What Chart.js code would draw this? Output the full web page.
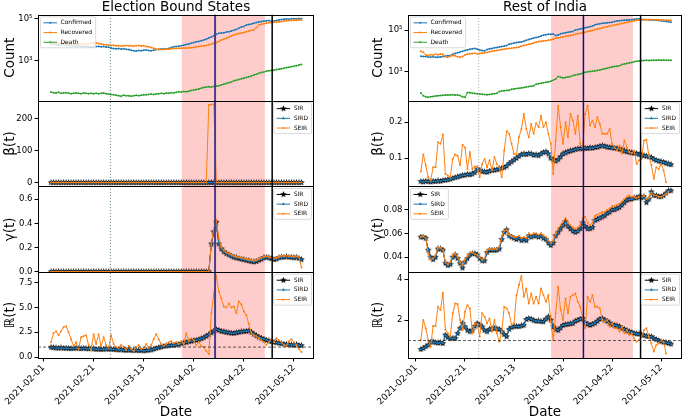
<!DOCTYPE html>
<html>
<head>
<meta charset="utf-8">
<script src="https://cdn.jsdelivr.net/npm/chart.js@4.4.1/dist/chart.umd.min.js"></script>
<style>
  html, body { margin: 0; padding: 0; background: #fff; }
  #wrap { position: relative; width: 685px; height: 417px; }
  .col { position: absolute; top: 0; height: 417px; }
</style>
</head>
<body>
<div id="wrap">
  <div class="col" style="left:0;width:342px"><canvas id="left"></canvas></div>
  <div class="col" style="left:342px;width:343px"><canvas id="right"></canvas></div>
</div>
<script>
// x values are days after 2021-02-01
const dateTicks = [0, 20, 40, 60, 80, 100];
const dateLabels = ["2021-02-01", "2021-02-21", "2021-03-13", "2021-04-02", "2021-04-22", "2021-05-12"];

// ---- Election Bound States (first point = day 3) ----
const firstDayL = 3;
const confirmedL = [5900, 6100, 5700, 5500, 5600, 5800, 5300, 5200, 5400, 5100,
  4900, 5000, 4700, 4600, 4800, 4500, 4400, 4700, 4600, 4700,
  4500, 4600, 4400, 4300, 3900, 3700, 3600, 3700, 3500, 3600,
  3400, 3300, 3100, 2900, 2800, 3000, 2900, 3100, 3200, 3000,
  2900, 3100, 3300, 3400, 3500, 3600, 3500, 3700, 4200, 4500,
  4600, 4800, 5100, 5400, 5800, 6100, 6600, 7200, 7800, 8200,
  8900, 9600, 10500, 12000, 13500, 15500, 18000, 20000, 20500, 21500,
  23000, 24000, 26000, 28500, 31000, 35000, 40000, 43000, 50000, 53000,
  56000, 61000, 66000, 70000, 74000, 78000, 80000, 82000, 76000, 77000,
  84000, 88000, 92000, 95000, 98000, 96000, 100000, 102000, 99000, 103000,
  100000];
const recoveredL = [6500, 6800, 7000, 6600, 6900, 6400, 6700, 6300, 6500, 6200,
  6100, 6300, 6000, 5900, 6200, 6400, 6600, 6800, 6900, 6500,
  6200, 5800, 5700, 5500, 5200, 5300, 5000, 5100, 4900, 5000,
  5200, 5100, 5000, 4800, 5100, 5200, 4900, 5000, 4700, 4500,
  4200, 3800, 3400, 3300, 3300, 3400, 3500, 3400, 3600, 3700,
  3700, 3800, 3800, 3900, 3900, 4000, 4100, 4200, 4500, 4600,
  4800, 5000, 5200, 5600, 6000, 6700, 7200, 8000, 9500, 10500,
  11500, 13000, 15000, 17000, 18000, 19500, 21000, 22000, 24000, 26000,
  28000, 30000, 38000, 50000, 55000, 58000, 62000, 64000, 66000, 68000,
  70000, 72000, 74000, 78000, 80000, 82000, 84000, 85000, 86000, 87000,
  88000];
const deathL = [30, 28, 27, 29, 26, 27, 28, 27, 25, 26,
  27, 26, 25, 27, 26, 25, 26, 25, 26, 25,
  26, 27, 25, 24, 23, 22, 21, 20, 19, 21,
  20, 20, 19, 20, 21, 20, 21, 22, 22, 23,
  24, 23, 24, 25, 26, 25, 27, 26, 28, 27,
  29, 31, 30, 32, 31, 33, 36, 38, 40, 42,
  46, 50, 52, 54, 52, 56, 58, 60, 66, 72,
  78, 85, 92, 105, 112, 120, 130, 140, 152, 165,
  180, 200, 215, 240, 260, 280, 300, 320, 330, 340,
  360, 380, 400, 420, 450, 470, 500, 530, 560, 600,
  640];
const betaSirL = [0.1, 0.1, 0.1, 0.1, 0.1, 0.1, 0.1, 0.1, 0.1, 0.1,
  0.1, 0.1, 0.1, 0.1, 0.1, 0.1, 0.1, 0.1, 0.1, 0.1,
  0.1, 0.1, 0.1, 0.1, 0.1, 0.1, 0.1, 0.1, 0.1, 0.1,
  0.1, 0.1, 0.1, 0.1, 0.1, 0.1, 0.1, 0.1, 0.1, 0.1,
  0.1, 0.1, 0.1, 0.1, 0.1, 0.1, 0.1, 0.1, 0.1, 0.1,
  0.1, 0.1, 0.1, 0.1, 0.1, 0.1, 0.1, 0.1, 0.1, 0.1,
  0.1, 0.1, 0.1, 0.2, 0.2, 0.2, 0.1, 0.1, 0.1, 0.1,
  0.1, 0.1, 0.1, 0.1, 0.1, 0.1, 0.1, 0.1, 0.1, 0.1,
  0.1, 0.1, 0.1, 0.1, 0.1, 0.1, 0.1, 0.1, 0.1, 0.1,
  0.1, 0.1, 0.1, 0.1, 0.1, 0.1, 0.1, 0.1, 0.1, 0.1,
  0.1];
const betaSeirL = [0.2, 0.2, 0.2, 0.2, 0.2, 0.2, 0.2, 0.2, 0.2, 0.2,
  0.2, 0.2, 0.2, 0.2, 0.2, 0.2, 0.2, 0.2, 0.2, 0.2,
  0.2, 0.2, 0.2, 0.2, 0.2, 0.2, 0.2, 0.2, 0.2, 0.2,
  0.2, 0.2, 0.2, 0.2, 0.2, 0.2, 0.2, 0.2, 0.2, 0.2,
  0.2, 0.2, 0.2, 0.2, 0.2, 0.2, 0.2, 0.2, 0.2, 0.2,
  0.2, 0.2, 0.2, 0.2, 0.2, 0.2, 0.2, 0.2, 0.2, 0.2,
  0.2, 0.2, 0.2, 243, 245, 246, 0.2, 0.2, 0.2, 0.2,
  0.2, 0.2, 0.2, 0.2, 0.2, 0.2, 0.2, 0.2, 0.2, 0.2,
  0.2, 0.2, 0.2, 0.2, 0.2, 0.2, 0.2, 0.2, 0.2, 0.2,
  0.2, 0.2, 0.2, 0.2, 0.2, 0.2, 0.2, 0.2, 0.2, 0.2,
  0.2];
const gammaSirL = [0, 0, 0, 0, 0, 0, 0, 0, 0, 0,
  0, 0, 0, 0, 0, 0, 0, 0, 0, 0,
  0, 0, 0, 0, 0, 0, 0, 0, 0, 0,
  0, 0, 0, 0, 0, 0, 0, 0, 0, 0,
  0, 0, 0, 0, 0, 0, 0, 0, 0, 0,
  0, 0, 0, 0, 0, 0, 0, 0, 0, 0,
  0, 0, 0, 0, 0.23, 0.33, 0.41, 0.23, 0.19, 0.165,
  0.15, 0.14, 0.13, 0.12, 0.115, 0.11, 0.105, 0.1, 0.095, 0.09,
  0.085, 0.082, 0.085, 0.095, 0.105, 0.115, 0.12, 0.115, 0.11, 0.1,
  0.105, 0.115, 0.12, 0.12, 0.125, 0.12, 0.12, 0.115, 0.12, 0.11,
  0.1];
const gammaSeirL = [0, 0, 0, 0, 0, 0, 0, 0, 0, 0,
  0, 0, 0, 0, 0, 0, 0, 0, 0, 0,
  0, 0, 0, 0, 0, 0, 0, 0, 0, 0,
  0, 0, 0, 0, 0, 0, 0, 0, 0, 0,
  0, 0, 0, 0, 0, 0, 0, 0, 0, 0,
  0, 0, 0, 0, 0, 0, 0, 0, 0, 0,
  0, 0, 0, 0, 0.23, 0.36, 0.43, 0.28, 0.2, 0.175,
  0.16, 0.15, 0.14, 0.13, 0.125, 0.12, 0.115, 0.11, 0.105, 0.1,
  0.095, 0.092, 0.095, 0.105, 0.115, 0.125, 0.128, 0.122, 0.118, 0.11,
  0.115, 0.125, 0.13, 0.13, 0.132, 0.13, 0.128, 0.125, 0.128, 0.12,
  0.035];
const rSirL = [0.98, 0.95, 0.92, 0.9, 0.93, 0.88, 0.9, 0.87, 0.85, 0.88,
  0.9, 0.86, 0.84, 0.88, 0.85, 0.83, 0.86, 0.82, 0.78, 0.8,
  0.76, 0.79, 0.82, 0.78, 0.8, 0.76, 0.74, 0.72, 0.75, 0.7,
  0.68, 0.71, 0.67, 0.65, 0.68, 0.64, 0.66, 0.63, 0.65, 0.7,
  0.72, 0.8, 0.88, 0.95, 1.02, 1.08, 1.12, 1.15, 1.18, 1.2,
  1.22, 1.28, 1.35, 1.42, 1.48, 1.55, 1.6, 1.66, 1.7, 1.76,
  1.85, 1.95, 2.1, 2.25, 2.45, 2.6, 2.78, 2.7, 2.6, 2.55,
  2.5, 2.45, 2.42, 2.4, 2.45, 2.5, 2.55, 2.58, 2.6, 2.65,
  2.5, 2.3, 2.15, 2.0, 1.9, 1.8, 1.7, 1.62, 1.55, 1.5,
  1.45, 1.4, 1.35, 1.3, 1.28, 1.25, 1.22, 1.2, 1.25, 1.18,
  1.15];
const rSeirL = [1.5, 2.4, 2.6, 2.2, 2.6, 3.0, 3.1, 2.5, 1.8, 1.1,
  1.5, 0.8, 2.0, 2.1, 2.2, 1.2, 0.7, 2.3, 1.3, 2.3,
  1.1, 2.0, 1.2, 0.9, 2.2, 1.3, 1.0, 0.9, 1.2, 1.0,
  0.7, 1.1, 0.8, 0.6, 1.0, 1.2, 0.8, 0.9, 1.3, 0.9,
  1.2, 1.8, 2.3, 1.8, 1.3, 1.1, 1.3, 1.5, 1.6, 1.4,
  1.5, 1.3, 1.6, 1.3, 2.4, 1.6, 1.9, 1.7, 1.2, 1.5,
  1.1, 1.0, 0.6, 0.3, 4.4, 6.4, 8.2, 6.6, 5.9, 5.1,
  5.0, 5.4, 5.0, 5.1, 4.4, 5.6, 5.3, 4.6, 4.2, 3.3,
  2.4, 2.2, 2.1, 1.9, 1.7, 1.5, 1.2, 1.5, 1.8, 1.5,
  1.9, 1.7, 1.5, 1.2, 1.1, 1.6, 1.8, 1.5, 1.2, 0.8,
  0.5];

// ---- Rest of India (first point = day 2) ----
const firstDayR = 2;
const confirmedR = [5500, 5400, 5300, 5100, 5000, 5200, 4900, 5000, 5100, 5300,
  5600, 5800, 6000, 6800, 7500, 8200, 8800, 9500, 10500, 11000,
  12000, 12500, 13000, 12000, 11000, 10500, 10000, 11500, 12500, 13000,
  14000, 14500, 15500, 16000, 17000, 18000, 21000, 22000, 24000, 25000,
  26000, 27000, 29000, 32000, 35000, 38000, 41000, 44000, 46000, 52000,
  56000, 60000, 62000, 63000, 64000, 55000, 58000, 66000, 70000, 74000,
  78000, 82000, 86000, 100000, 105000, 112000, 120000, 128000, 135000, 145000,
  155000, 180000, 190000, 200000, 210000, 215000, 222000, 228000, 235000, 260000,
  270000, 280000, 290000, 295000, 300000, 305000, 310000, 330000, 340000, 335000,
  325000, 320000, 315000, 310000, 305000, 300000, 295000, 290000, 280000, 270000,
  260000, 250000, 240000];
const recoveredR = [9500, 8500, 6300, 6000, 6500, 6200, 6800, 6500, 7000, 6800,
  5200, 4900, 5500, 6000, 5800, 5200, 5000, 5400, 6300, 7000,
  7200, 7500, 7600, 7300, 7500, 7800, 8000, 8400, 9000, 9500,
  10000, 10500, 11000, 11500, 12000, 12500, 13000, 13500, 14000, 14500,
  15000, 17000, 18000, 19000, 21000, 22000, 24000, 26000, 28000, 29000,
  30000, 31000, 32000, 34000, 37000, 40000, 42000, 45000, 47000, 50000,
  52000, 55000, 58000, 62000, 66000, 70000, 74000, 78000, 85000, 90000,
  95000, 105000, 112000, 120000, 128000, 136000, 145000, 155000, 165000, 175000,
  185000, 195000, 205000, 220000, 235000, 250000, 265000, 280000, 290000, 300000,
  305000, 310000, 315000, 315000, 318000, 316000, 312000, 308000, 305000, 300000,
  298000, 295000, 290000];
const deathR = [95, 70, 62, 59, 63, 65, 68, 70, 72, 74,
  75, 75, 76, 77, 76, 75, 72, 62, 59, 100,
  98, 93, 90, 88, 85, 82, 80, 78, 80, 84,
  88, 92, 112, 118, 122, 126, 130, 142, 148, 155,
  160, 165, 175, 185, 192, 200, 210, 250, 265, 280,
  295, 310, 320, 350, 390, 450, 580, 540, 500, 520,
  550, 580, 650, 690, 730, 780, 830, 930, 980, 1020,
  1060, 1100, 1150, 1200, 1300, 1380, 1450, 1600, 1700, 1780,
  1850, 1950, 2200, 2350, 2500, 2650, 2800, 3000, 3150, 3300,
  3400, 3450, 3500, 3450, 3550, 3500, 3550, 3600, 3550, 3600,
  3550, 3500, 3550];
const betaSirR = [0.035, 0.034, 0.036, 0.035, 0.034, 0.036, 0.035, 0.037, 0.036, 0.038,
  0.039, 0.04, 0.042, 0.044, 0.046, 0.048, 0.05, 0.052, 0.053, 0.055,
  0.054, 0.056, 0.06, 0.07, 0.066, 0.063, 0.062, 0.061, 0.064, 0.066,
  0.067, 0.068, 0.07, 0.072, 0.074, 0.078, 0.085, 0.09, 0.095, 0.1,
  0.105, 0.11, 0.112, 0.11, 0.113, 0.112, 0.108, 0.11, 0.107, 0.112,
  0.116, 0.118, 0.112, 0.1, 0.095, 0.092, 0.096, 0.104, 0.112, 0.115,
  0.118, 0.12, 0.122, 0.124, 0.126, 0.127, 0.126, 0.128, 0.127, 0.129,
  0.128, 0.13, 0.131, 0.133, 0.135, 0.133, 0.131, 0.13, 0.129, 0.128,
  0.127, 0.125, 0.123, 0.12, 0.118, 0.117, 0.115, 0.114, 0.113, 0.11,
  0.108, 0.107, 0.106, 0.104, 0.102, 0.097, 0.094, 0.092, 0.09, 0.089,
  0.086, 0.084, 0.082];
const betaSeirR = [0.063, 0.11, 0.08, 0.047, 0.038, 0.075, 0.075, 0.144, 0.14, 0.166,
  0.056, 0.052, 0.047, 0.098, 0.11, 0.107, 0.08, 0.137, 0.13, 0.07,
  0.117, 0.07, 0.077, 0.075, 0.047, 0.084, 0.098, 0.075, 0.094, 0.066,
  0.103, 0.084, 0.075, 0.047, 0.121, 0.175, 0.168, 0.14, 0.112, 0.11,
  0.158, 0.181, 0.223, 0.181, 0.158, 0.195, 0.168, 0.197, 0.186, 0.218,
  0.186, 0.2, 0.168, 0.14, 0.056, 0.149, 0.246, 0.186, 0.14, 0.2,
  0.158, 0.223, 0.205, 0.168, 0.218, 0.14, 0.13, 0.223, 0.246, 0.191,
  0.205, 0.186, 0.214, 0.195, 0.168, 0.168, 0.168, 0.181, 0.14, 0.13,
  0.121, 0.135, 0.112, 0.149, 0.13, 0.117, 0.114, 0.121, 0.084, 0.094,
  0.098, 0.149, 0.151, 0.107, 0.08, 0.043, 0.075, 0.07, 0.084, 0.066,
  0.033];
const gammaSirR = [0.057, 0.057, 0.056, 0.046, 0.04, 0.038, 0.04, 0.047, 0.047, 0.046,
  0.035, 0.033, 0.034, 0.04, 0.042, 0.039, 0.035, 0.031, 0.036, 0.039,
  0.042, 0.043, 0.043, 0.042, 0.039, 0.037, 0.037, 0.044, 0.046, 0.046,
  0.046, 0.046, 0.047, 0.055, 0.061, 0.063, 0.058, 0.057, 0.056, 0.055,
  0.056, 0.054, 0.055, 0.054, 0.058, 0.057, 0.058, 0.058, 0.057, 0.058,
  0.056, 0.055, 0.052, 0.05, 0.052, 0.058, 0.061, 0.064, 0.067, 0.07,
  0.066, 0.064, 0.062, 0.061, 0.062, 0.064, 0.069, 0.066, 0.064, 0.064,
  0.065, 0.071, 0.072, 0.073, 0.074, 0.075, 0.077, 0.078, 0.08, 0.08,
  0.081, 0.082, 0.084, 0.086, 0.088, 0.089, 0.089, 0.09, 0.09, 0.091,
  0.09, 0.091, 0.086, 0.089, 0.095, 0.092, 0.092, 0.091, 0.091, 0.092,
  0.094, 0.096, 0.096];
const gammaSeirR = [0.057, 0.058, 0.056, 0.043, 0.038, 0.039, 0.042, 0.048, 0.048, 0.046,
  0.036, 0.034, 0.036, 0.042, 0.043, 0.04, 0.036, 0.033, 0.038, 0.041,
  0.044, 0.044, 0.043, 0.042, 0.04, 0.038, 0.039, 0.046, 0.047, 0.047,
  0.047, 0.047, 0.049, 0.058, 0.062, 0.063, 0.059, 0.058, 0.057, 0.057,
  0.058, 0.056, 0.057, 0.056, 0.06, 0.059, 0.06, 0.06, 0.059, 0.06,
  0.058, 0.057, 0.054, 0.052, 0.054, 0.06, 0.064, 0.067, 0.07, 0.073,
  0.069, 0.067, 0.065, 0.064, 0.065, 0.067, 0.073, 0.074, 0.069, 0.067,
  0.069, 0.075, 0.076, 0.077, 0.078, 0.078, 0.08, 0.081, 0.083, 0.083,
  0.084, 0.085, 0.087, 0.089, 0.091, 0.092, 0.091, 0.091, 0.09, 0.091,
  0.091, 0.092, 0.089, 0.09, 0.094, 0.092, 0.092, 0.091, 0.091, 0.092,
  0.093, 0.095];
const rSirR = [0.57, 0.62, 0.7, 0.78, 0.92, 0.94, 0.9, 0.88, 0.9, 0.86,
  1.27, 1.15, 1.1, 1.12, 1.1, 1.35, 1.6, 1.84, 1.67, 1.5,
  1.43, 1.5, 1.7, 1.84, 1.75, 1.67, 1.5, 1.43, 1.55, 1.58,
  1.6, 1.57, 1.55, 1.43, 1.3, 1.19, 1.55, 1.65, 1.68, 1.7,
  1.68, 1.72, 1.75, 2.03, 2.08, 2.05, 1.98, 1.95, 1.96, 1.93,
  1.92, 2.05, 2.16, 2.0, 1.67, 1.55, 1.5, 1.62, 1.75, 1.78,
  1.8, 1.82, 1.84, 1.95, 2.0, 2.05, 2.08, 1.87, 1.8, 1.75,
  1.8, 1.85, 1.95, 2.05, 2.08, 2.0, 1.95, 1.85, 1.78, 1.75,
  1.72, 1.68, 1.6, 1.55, 1.48, 1.43, 1.4, 1.35, 1.33, 1.32,
  1.28, 1.25, 1.22, 1.2, 1.19, 1.1, 1.05, 1.0, 0.95, 0.92,
  0.9, 0.87, 0.83];
const rSeirR = [1.02, 2.0, 1.6, 1.02, 0.7, 1.71, 1.71, 2.65, 2.49, 3.33,
  1.54, 1.35, 1.19, 2.33, 2.81, 2.78, 2.0, 1.51, 2.41, 2.73,
  2.57, 1.35, 1.84, 1.8, 1.19, 2.33, 2.16, 1.84, 2.08, 1.43,
  2.0, 1.35, 0.94, 1.43, 2.65, 2.57, 2.33, 1.76, 1.84, 3.22,
  3.71, 4.15, 3.14, 3.54, 2.81, 3.3, 2.81, 3.14, 2.81, 3.54,
  3.22, 2.89, 3.22, 1.92, 1.02, 2.33, 3.63, 2.49, 2.0, 3.06,
  2.33, 3.14, 3.22, 3.3, 2.89, 2.65, 2.08, 1.6, 3.14, 2.89,
  3.22, 2.65, 2.65, 2.57, 2.0, 1.92, 2.0, 1.67, 1.84, 1.6,
  1.6, 1.43, 1.67, 1.35, 1.51, 1.27, 1.35, 1.1, 0.94, 1.02,
  1.19, 1.51, 1.6, 1.19, 0.86, 0.46, 0.78, 0.86, 1.02, 0.94,
  0.37];

// event dates (days after 2021-02-01)
const eventsL = { announce: 26.7, pollStart: 55.2, pollEnd: 88.4, midPoll: 68.5, results: 91.3 };
const eventsR = { announce: 25.6, pollStart: 55.1, pollEnd: 88.5, midPoll: 68.3, results: 91.6 };

const BLUE = "#1f77b4", ORANGE = "#ff7f0e", GREEN = "#2ca02c";

Chart.defaults.font.family = "'DejaVu Sans', sans-serif";
Chart.defaults.color = "#000";

// filled five point star, like matplotlib '*'
function starMarker(size) {
  const c = document.createElement("canvas");
  c.width = c.height = size;
  const g = c.getContext("2d");
  const r = size / 2;
  g.beginPath();
  for (let i = 0; i < 10; i++) {
    const a = -Math.PI / 2 + i * Math.PI / 5;
    const rr = i % 2 ? r * 0.42 : r;
    g.lineTo(r + rr * Math.cos(a), r + rr * Math.sin(a));
  }
  g.closePath();
  g.fillStyle = "#000";
  g.fill();
  return c;
}
const star = starMarker(7);

function series(label, axis, first, values, color, marker, radius) {
  return {
    label,
    yAxisID: axis,
    data: values.map((v, i) => ({ x: first + i, y: v })),
    borderColor: color,
    backgroundColor: color,
    pointBackgroundColor: color,
    borderWidth: 1,
    pointStyle: marker,
    pointRadius: radius,
    pointHoverRadius: radius,
    pointBorderWidth: 0,
    tension: 0,
    fill: false
  };
}

function yAxis(title, range, ticks, fmt, weight, w, titlePad, type) {
  return {
    type: type || "linear",
    position: "left",
    stack: "panels",
    stackWeight: 1,
    weight: weight,
    min: range[0],
    max: range[1],
    grid: { drawOnChartArea: false, drawTicks: true, tickLength: 3.5, color: "#000" },
    border: { display: false },
    ticks: { font: { size: 8.5 }, padding: 2, autoSkip: false, maxRotation: 0, callback: fmt },
    afterBuildTicks: (axis) => { axis.ticks = ticks.map((v) => ({ value: v })); },
    afterFit: (axis) => { axis.width = w; },
    title: { display: true, text: title, font: { size: 13.5, lineHeight: 1.2 }, padding: { top: titlePad, bottom: 0 } }
  };
}

// background band, event lines, panel frames and in-panel legends
const decor = {
  id: "decor",
  beforeDatasetsDraw(chart, args, o) {
    const { ctx, chartArea: a, scales } = chart;
    const x0 = scales.x.getPixelForValue(o.events.pollStart);
    const x1 = scales.x.getPixelForValue(o.events.pollEnd);
    ctx.save();
    ctx.fillStyle = "rgba(255, 0, 0, 0.2)";
    ctx.fillRect(x0, a.top, x1 - x0, a.bottom - a.top);
    ctx.restore();
  },
  afterDatasetsDraw(chart, args, o) {
    const { ctx, chartArea: a, scales } = chart;
    ctx.save();
    const vline = (d, color, width, dash) => {
      const px = scales.x.getPixelForValue(d);
      ctx.beginPath();
      ctx.setLineDash(dash);
      ctx.strokeStyle = color;
      ctx.lineWidth = width;
      ctx.moveTo(px, a.top);
      ctx.lineTo(px, a.bottom);
      ctx.stroke();
    };
    vline(o.events.announce, o.dotColor, 1, [1, 2]);
    vline(o.events.midPoll, o.blueColor, o.blueWidth, []);
    vline(o.events.results, "#000", 1.5, []);

    const y1 = scales.yr.getPixelForValue(1);
    ctx.beginPath();
    ctx.setLineDash([3, 2]);
    ctx.strokeStyle = "#333";
    ctx.lineWidth = 0.8;
    ctx.moveTo(a.left, y1);
    ctx.lineTo(a.right, y1);
    ctx.stroke();
    ctx.setLineDash([]);

    ctx.strokeStyle = "#000";
    ctx.lineWidth = 1;
    const L = Math.round(a.left) + 0.5, R = Math.round(a.right) - 0.5;
    for (const id of ["yc", "yb", "yg", "yr"]) {
      const s = scales[id];
      const T = Math.round(s.top) + 0.5, B = Math.round(s.bottom) + 0.5;
      ctx.strokeRect(L, T, R - L, B - T);
    }

    ctx.font = "6px 'DejaVu Sans'";
    ctx.textBaseline = "middle";
    for (const p of o.legends) {
      const s = scales[p.axis];
      const sets = chart.data.datasets.filter((d) => d.yAxisID === p.axis);
      const tw = Math.max(...sets.map((d) => ctx.measureText(d.label).width));
      const w = tw + 23.5;
      const h = 6 + (sets.length - 1) * 9.7 + 5.5;
      const bx = p.side === "left" ? a.left + 2.5 : a.right - 2.5 - w;
      const by = s.top + 2;
      ctx.beginPath();
      if (ctx.roundRect) ctx.roundRect(bx, by, w, h, 1.5); else ctx.rect(bx, by, w, h);
      ctx.fillStyle = "rgba(255,255,255,0.8)";
      ctx.fill();
      ctx.strokeStyle = "#d0d0d0";
      ctx.lineWidth = 0.8;
      ctx.stroke();
      sets.forEach((d, i) => {
        const cy = by + 6 + i * 9.7;
        ctx.beginPath();
        ctx.strokeStyle = d.borderColor;
        ctx.lineWidth = d.borderWidth;
        ctx.moveTo(bx + 3, cy);
        ctx.lineTo(bx + 16.5, cy);
        ctx.stroke();
        ctx.fillStyle = d.pointBackgroundColor;
        Chart.helpers.drawPoint(ctx, { pointStyle: d.pointStyle, radius: d.pointRadius, borderWidth: 0, rotation: 0 }, bx + 9.75, cy);
        ctx.fillStyle = "#000";
        ctx.fillText(d.label, bx + 20, cy);
      });
    }
    ctx.restore();
  }
};

function column(id, c) {
  const f = c.first;
  const datasets = [
    series("Confirmed", "yc", f, c.confirmed, BLUE, "circle", 1),
    series("Recovered", "yc", f, c.recovered, ORANGE, "circle", 1),
    series("Death", "yc", f, c.death, GREEN, "circle", 1),
    series("SIR", "yb", f, c.betaSir, "#000", star, 3),
    series("SIRD", "yb", f, c.betaSird, BLUE, "triangle", 1.8),
    series("SEIR", "yb", f, c.betaSeir, ORANGE, "circle", 1),
    series("SIR", "yg", f, c.gammaSir, "#000", star, 3),
    series("SIRD", "yg", f, c.gammaSird, BLUE, "triangle", 1.8),
    series("SEIR", "yg", f, c.gammaSeir, ORANGE, "circle", 1),
    series("SIR", "yr", f, c.rSir, "#000", star, 3),
    series("SIRD", "yr", f, c.rSird, BLUE, "triangle", 1.8),
    series("SEIR", "yr", f, c.rSeir, ORANGE, "circle", 1)
  ].map((d, i) => ({ ...d, order: -i }));

  const log = (v) => (v === 1000 ? "10³" : v === 100000 ? "10⁵" : "");

  return new Chart(document.getElementById(id), {
    type: "line",
    data: { datasets },
    plugins: [decor],
    options: {
      responsive: true,
      maintainAspectRatio: false,
      animation: false,
      layout: { padding: { left: 0, right: c.padRight, top: 0, bottom: 0 } },
      plugins: {
        legend: { display: false },
        tooltip: { enabled: false },
        title: {
          display: true, text: c.title, fullSize: false,
          font: { size: 13.5, weight: "normal", lineHeight: 1.1 },
          padding: { top: 0, bottom: 0 }, color: "#000"
        },
        decor: {
          events: c.events, dotColor: c.dotColor, blueColor: c.blueColor, blueWidth: c.blueWidth,
          legends: c.legends
        }
      },
      scales: {
        x: {
          type: "linear",
          position: "bottom",
          min: c.xRange[0],
          max: c.xRange[1],
          grid: { drawOnChartArea: false, drawTicks: true, tickLength: 3.5, color: "#000" },
          border: { display: false },
          ticks: {
            font: { size: 9 }, minRotation: 45, maxRotation: 45, autoSkip: false, padding: 1,
            callback: (v) => dateLabels[dateTicks.indexOf(v)]
          },
          afterBuildTicks: (axis) => { axis.ticks = dateTicks.map((v) => ({ value: v })); },
          afterFit: (axis) => { axis.height = 59; },
          title: { display: true, text: "Date", font: { size: 13.5, lineHeight: 1 }, padding: { top: 0, bottom: -2 } }
        },
        yc: yAxis("Count", c.yc, [1000, 100000], log, 4, c.yWidth, c.titlePad, "logarithmic"),
        yb: yAxis("β(t)", c.yb, c.ybTicks, c.ybFmt, 3, c.yWidth, c.titlePad),
        yg: yAxis("γ(t)", c.yg, c.ygTicks, c.ygFmt, 2, c.yWidth, c.titlePad),
        yr: yAxis("ℝ(t)", c.yr, c.yrTicks, c.yrFmt, 1, c.yWidth, c.titlePad)
      }
    }
  });
}

column("left", {
  title: "Election Bound States",
  first: firstDayL,
  confirmed: confirmedL, recovered: recoveredL, death: deathL,
  betaSir: betaSirL, betaSird: betaSirL, betaSeir: betaSeirL,
  gammaSir: gammaSirL, gammaSird: gammaSirL, gammaSeir: gammaSeirL,
  rSir: rSirL, rSird: rSirL, rSeir: rSeirL,
  events: eventsL,
  dotColor: "#557777", blueColor: "#483d8b", blueWidth: 2,
  xRange: [-2.2, 108],
  yc: [11.6, 155000],
  yb: [-12, 257], ybTicks: [0, 100, 200], ybFmt: (v) => String(v),
  yg: [-0.004, 0.706], ygTicks: [0, 0.2, 0.4, 0.6], ygFmt: (v) => v.toFixed(1),
  yr: [-0.1, 8.55], yrTicks: [0, 2.5, 5, 7.5], yrFmt: (v) => v.toFixed(1),
  yWidth: 38, titlePad: 2.5, padRight: 28,
  legends: [
    { axis: "yc", side: "left" }, { axis: "yb", side: "right" },
    { axis: "yg", side: "right" }, { axis: "yr", side: "right" }
  ]
});

column("right", {
  title: "Rest of India",
  first: firstDayR,
  confirmed: confirmedR, recovered: recoveredR, death: deathR,
  betaSir: betaSirR, betaSird: betaSirR, betaSeir: betaSeirR,
  gammaSir: gammaSirR, gammaSird: gammaSirR, gammaSeir: gammaSeirR,
  rSir: rSirR, rSird: rSirR, rSeir: rSeirR,
  events: eventsR,
  dotColor: "#9aa5a5", blueColor: "#10108f", blueWidth: 1.5,
  xRange: [-3.24, 108.5],
  yc: [40.7, 537000],
  yb: [0.0214, 0.26], ybTicks: [0.1, 0.2], ybFmt: (v) => v.toFixed(1),
  yg: [0.0274, 0.0996], ygTicks: [0.04, 0.06, 0.08], ygFmt: (v) => v.toFixed(2),
  yr: [0.146, 4.34], yrTicks: [2, 4], yrFmt: (v) => String(v),
  yWidth: 66, titlePad: 28, padRight: 1,
  legends: [
    { axis: "yc", side: "left" }, { axis: "yb", side: "right" },
    { axis: "yg", side: "left" }, { axis: "yr", side: "right" }
  ]
});
</script>
</body>
</html>
